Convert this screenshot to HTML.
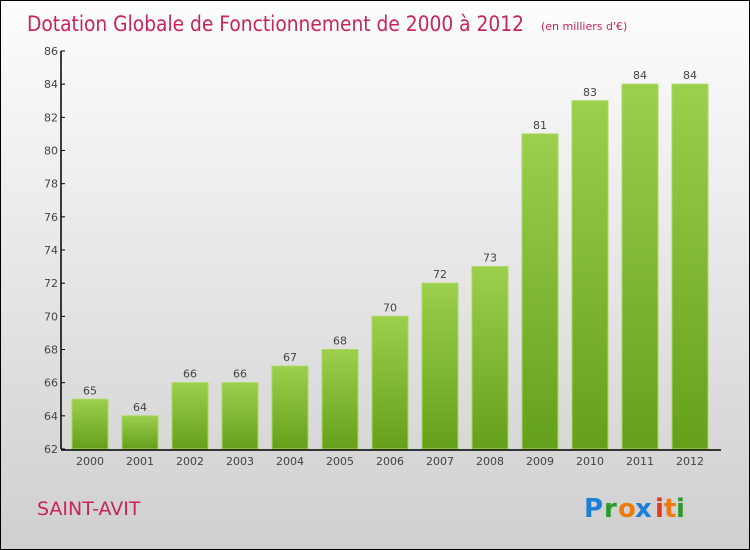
<!DOCTYPE html>
<html><head><meta charset="utf-8"><style>
body{margin:0;}
#root{position:relative;width:748px;height:548px;border:1px solid #000;background:linear-gradient(#fdfdfd,#cfcfcf);font-family:"DejaVu Sans","Liberation Sans",sans-serif;overflow:hidden}
svg text{font-family:"DejaVu Sans","Liberation Sans",sans-serif}
</style></head><body>
<div id="root">
<svg id="chart" width="748" height="548">
<defs><linearGradient id="g" x1="0" y1="0" x2="0" y2="1"><stop offset="0" stop-color="#9ccf4c"/><stop offset="1" stop-color="#65a01a"/></linearGradient></defs>
<text x="26" y="30" font-size="21" fill="#c8235a" textLength="497" lengthAdjust="spacingAndGlyphs">Dotation Globale de Fonctionnement de 2000 à 2012</text>
<text x="540" y="29" font-size="11" fill="#c8235a">(en milliers d'€)</text>
<text x="36" y="514" font-size="19" fill="#c8235a">SAINT-AVIT</text>
<g font-size="26" font-weight="bold">
<text x="583" y="516" fill="#1a7fd6">P</text><text x="603" y="516" fill="#2a9a2a">r</text><text x="617" y="516" fill="#f07a10">o</text><text x="634" y="516" fill="#1a7fd6">x</text><text x="654" y="516" fill="#e03a20">i</text><text x="663" y="516" fill="#f07a10">t</text><text x="675" y="516" fill="#2a9a2a">i</text>
</g>
<g id="plot"></g>
</svg></div>
<script>
const categories=["2000","2001","2002","2003","2004","2005","2006","2007","2008","2009","2010","2011","2012"];
const values=[65,64,66,66,67,68,70,72,73,81,83,84,84];
const yTicks=[62,64,66,68,70,72,74,76,78,80,82,84,86];
const NS="http://www.w3.org/2000/svg";
const g=document.getElementById('plot');
const x0=60,x1=720,y0=448,yTop=50,vmin=62,vmax=86;
const y=v=>y0-(v-vmin)/(vmax-vmin)*(y0-yTop);
const step=(x1-x0-10)/categories.length;
const xc=i=>x0+5+step*(i+0.5)-1;
function mk(t,a){const e=document.createElementNS(NS,t);for(const k in a)e.setAttribute(k,a[k]);g.appendChild(e);return e;}
yTicks.forEach(v=>{
 const t=mk('text',{x:x0-3,y:y(v)+4,'font-size':11,fill:'#444','text-anchor':'end'});t.textContent=v;
 
 
 const l=mk('line',{x1:x0,x2:x0+4,y1:y(v),y2:y(v),stroke:'#000'});
 
 
});
categories.forEach((c,i)=>{
 const w=36,cx=xc(i);
 const r=mk('rect',{x:cx-w/2,y:y(values[i]),width:w,height:y0-y(values[i]),fill:'url(#g)',stroke:'#a8d860','stroke-width':1});
 
 
 const v=mk('text',{x:cx,y:y(values[i])-5,'font-size':11,fill:'#444','text-anchor':'middle'});v.textContent=values[i];
 
 
 const t=mk('text',{x:cx,y:y0+16,'font-size':11,fill:'#444','text-anchor':'middle'});t.textContent=c;
 
 
});
const ya=mk('line',{x1:x0,x2:x0,y1:yTop,y2:y0,stroke:'#000','stroke-width':1.5});


const xa=mk('line',{x1:x0,x2:x1,y1:y0+1,y2:y0+1,stroke:'#000','stroke-width':1.5});


</script>
</body></html>
